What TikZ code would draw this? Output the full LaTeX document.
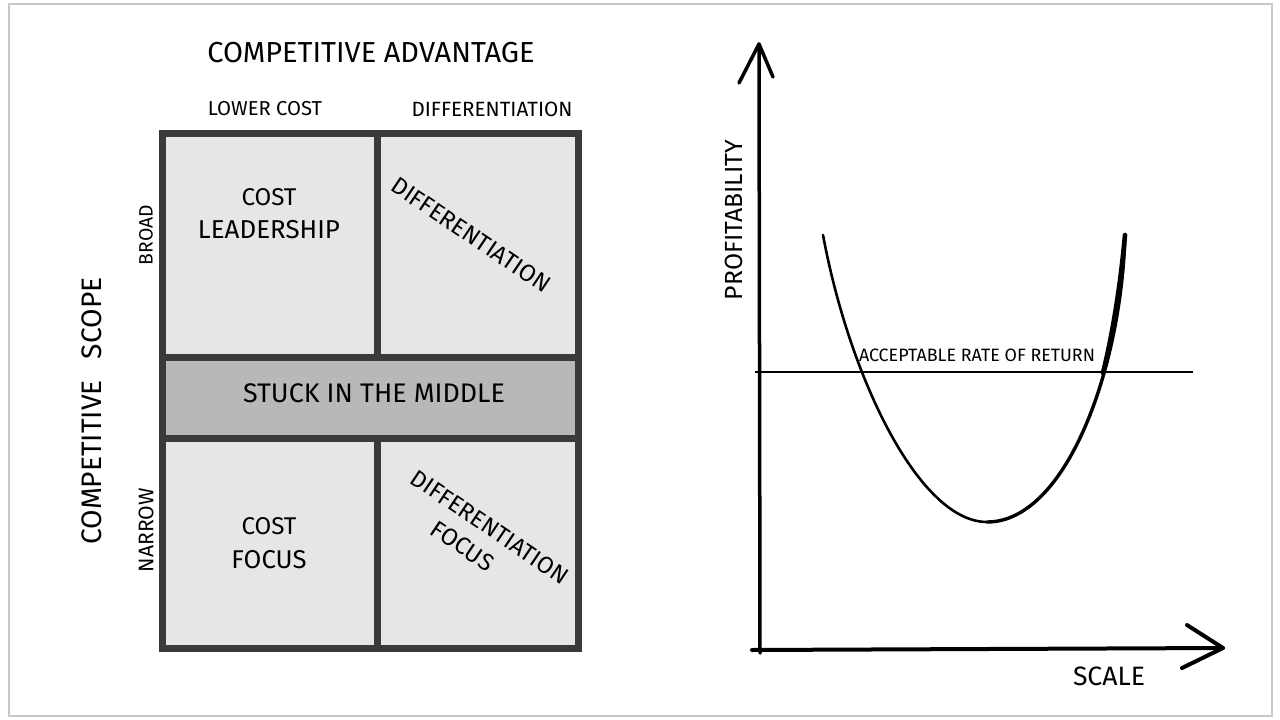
\documentclass[tikz,border=0pt]{standalone}
\usepackage{fontspec}
\setmainfont{Fira Sans}
\usepackage{graphicx}
\definecolor{framegray}{HTML}{C8C8C8}
\definecolor{linegray}{HTML}{3A3A3A}
\definecolor{cellgray}{HTML}{E6E6E6}
\definecolor{bandgray}{HTML}{B8B8B8}
\newcommand\fitto[2]{\resizebox{#1pt}{!}{#2}}
\begin{document}
\begin{tikzpicture}[x=1pt,y=-1pt,
  lbl/.style={inner sep=0pt, text=black, font=\fontsize{20}{24}\selectfont},
  gridline/.style={draw=linegray, line width=7pt},
  axisline/.style={draw=black, line width=3.5pt, line cap=round, line join=round},
  thinline/.style={draw=black, line width=2pt},
  curveline/.style={draw=black, line width=2.6pt, line cap=round}]
\useasboundingbox (0,0) rectangle (1280,720);
\draw[framegray, line width=1.5pt] (9,4) rectangle (1272,716);

% ---------- matrix ----------
\coordinate (tl) at (162,133);
\coordinate (br) at (578,648);
\coordinate (bandT) at (162,357);
\coordinate (bandB) at (578,438);
\fill[cellgray] (tl) rectangle (br);
\fill[bandgray] (bandT) rectangle (bandB);
\draw[gridline] (162,357) -- (578,357);
\draw[gridline] (162,438) -- (578,438);
\draw[gridline] (377,133) -- (377,357);
\draw[gridline] (377,438) -- (377,648);
\draw[gridline] (tl) rectangle (br);

\node[lbl] (ca) at (371,53) {\fitto{327}{COMPETITIVE ADVANTAGE}};
\node[lbl] (lc) at (265,109) {\fitto{114}{LOWER COST}};
\node[lbl] (dh) at (492,109) {\fitto{161}{DIFFERENTIATION}};

\node[lbl] (cl1) at (269,197) {\fitto{55}{COST}};
\node[lbl] (cl2) at (269,230) {\fitto{142}{LEADERSHIP}};
\node[lbl, rotate=-34] (dif) at (471,235) {\fitto{186}{DIFFERENTIATION}};
\node[lbl] (stuck) at (374,393) {\fitto{262}{STUCK IN THE MIDDLE}};
\node[lbl] (cf1) at (269,526) {\fitto{55}{COST}};
\node[lbl] (cf2) at (269,560) {\fitto{75}{FOCUS}};
\node[lbl, rotate=-34, align=center, font=\fontsize{20}{31}\selectfont] (dff) at (481,540)
  {\fitto{184}{DIFFERENTIATION}\\\fitto{70}{FOCUS}\hspace*{24pt}};

\node[lbl, rotate=90] (broad) at (146,235) {\fitto{60}{BROAD}};
\node[lbl, rotate=90] (narrow) at (146,530) {\fitto{84}{NARROW}};
\node[lbl, rotate=90] (cs) at (92,411) {\fitto{267}{COMPETITIVE\hspace{0.75em}SCOPE}};

% ---------- chart ----------
\coordinate (ytip) at (759,44);
\coordinate (xtip) at (1223,648);
\draw[axisline] (760,653) -- (ytip);
\draw[axisline] (739,83) -- (ytip) -- (773,77);
\draw[axisline, line width=4pt] (752,650) -- (xtip);
\draw[axisline, line width=4pt] (1187,625) -- (xtip) -- (1182,668);

\coordinate (rl) at (755,372);
\coordinate (rr) at (1193,372);
\draw[thinline] (rl) -- (rr);

\coordinate (c0) at (823,235);
\coordinate (cm) at (987,522);
\coordinate (c1) at (1125,235);
\draw[curveline] (c0) .. controls (850,380) and (920,522) .. (cm);
\draw[curveline, line width=3.4pt] (cm) .. controls (1065,522) and (1121,372) .. (c1);
\draw[curveline, line width=4.6pt] (1103,373) .. controls (1112,336) and (1120,290) .. (c1);

\node[lbl] (arr) at (977,355) {\fitto{236}{ACCEPTABLE RATE OF RETURN}};
\node[lbl, rotate=90] (prof) at (734,220) {\fitto{160}{PROFITABILITY}};
\node[lbl] (scale) at (1109,676) {\fitto{72}{SCALE}};
\end{tikzpicture}
\end{document}
